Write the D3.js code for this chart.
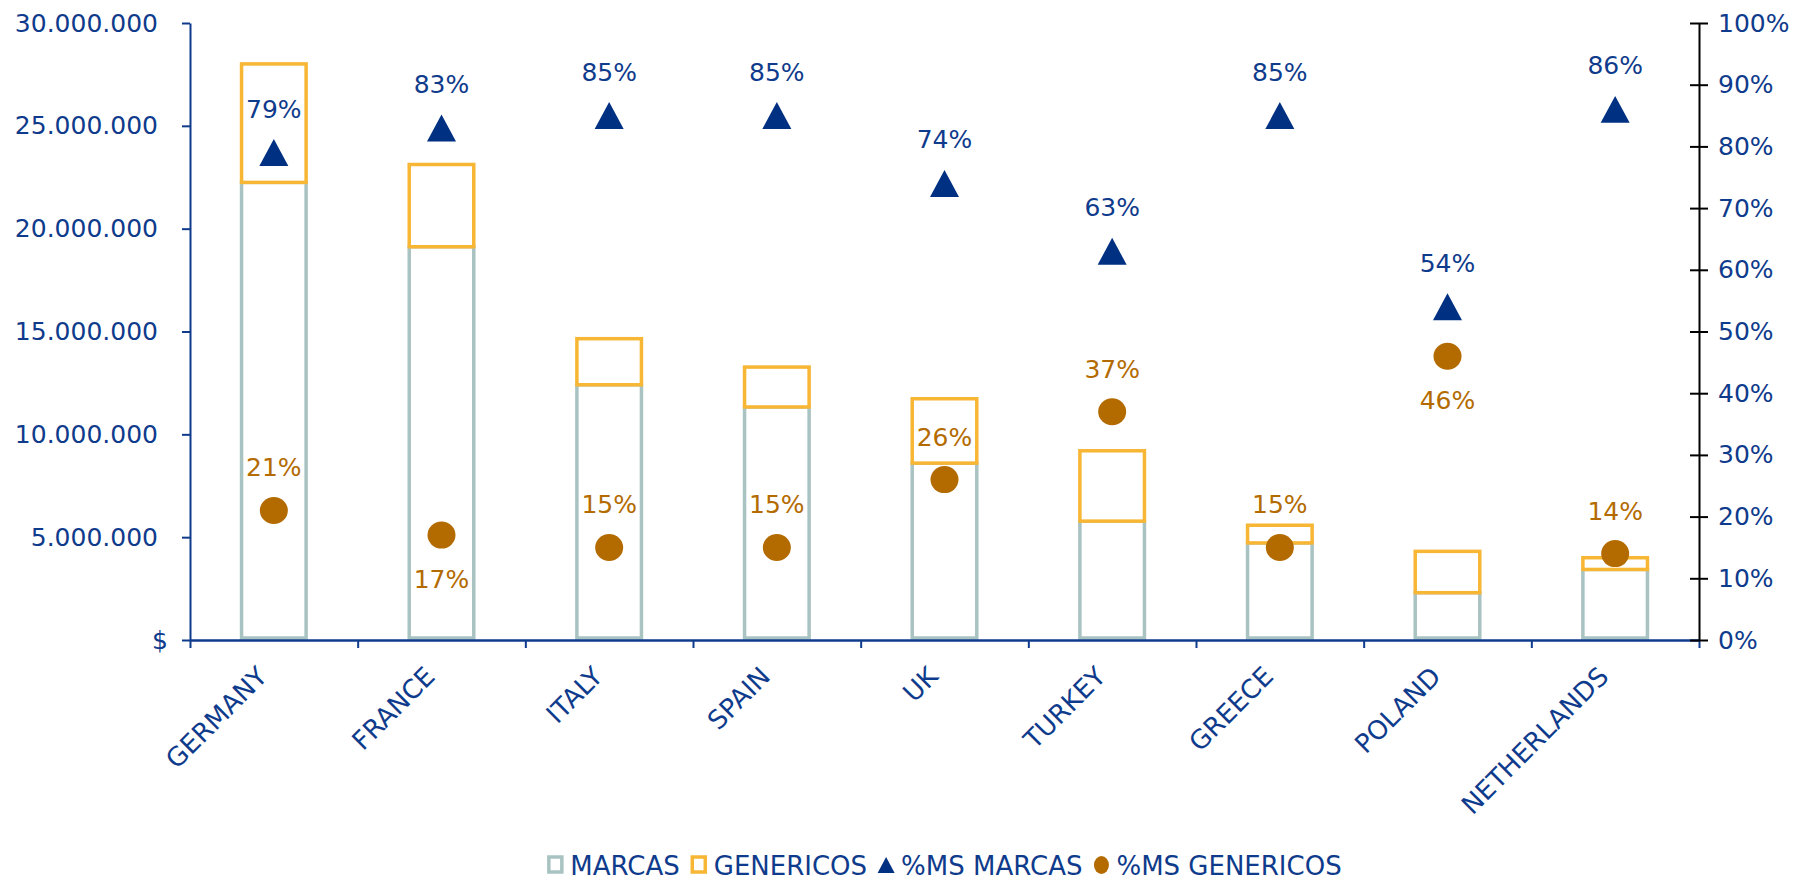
<!DOCTYPE html>
<html lang="es">
<head>
  <meta charset="UTF-8">
  <title>Marcas vs genericos</title>
  <script src="https://cdn.jsdelivr.net/npm/d3@7"></script>
  <style>
    html, body { margin: 0; padding: 0; background: #fff; }
    svg { display: block; font-family: Verdana, "DejaVu Sans", sans-serif; }
  </style>
</head>
<body>
<svg id="chart" width="1797" height="881"></svg>
<script>
  // data
  var countries = ["GERMANY", "FRANCE", "ITALY", "SPAIN", "UK", "TURKEY", "GREECE", "POLAND", "NETHERLANDS"];
  var marcas    = [22250000, 19120000, 12410000, 11330000, 8600000, 5780000, 4720000, 2300000, 3430000];
  var genericos = [ 5760000,  4000000,  2240000,  1940000, 3130000, 3420000,  860000, 2010000,  570000];
  var msMarcas    = [0.79, 0.83, 0.85, 0.85, 0.74, 0.63, 0.85, 0.54, 0.86];
  var msGenericos = [0.21, 0.17, 0.15, 0.15, 0.26, 0.37, 0.15, 0.46, 0.14];
  var valueTicks = [0, 5000000, 10000000, 15000000, 20000000, 25000000, 30000000];
  var pctTicks = [0, 0.1, 0.2, 0.3, 0.4, 0.5, 0.6, 0.7, 0.8, 0.9, 1];
  var legendNames = ["MARCAS", "GENERICOS", "%MS MARCAS", "%MS GENERICOS"];

  var navy = "#0f3b8c";
  var triColor = "#003082";
  var teal = "#a9c3c2";
  var orange = "#f7b634";
  var brown = "#b36b00";
  var fontSize = "25px";

  var svg = d3.select("#chart");
  var margin = { top: 23, right: 98, bottom: 241, left: 190 };
  var width = 1797 - margin.left - margin.right;
  var height = 881 - margin.top - margin.bottom;

  var g = svg.append("g")
    .attr("transform", "translate(" + margin.left + "," + margin.top + ")");

  var x = d3.scaleBand().domain(countries).range([0, width])
    .paddingInner(0.615).paddingOuter(0.3075);
  var y = d3.scaleLinear().domain([0, 30000000]).range([height, 0]);
  var yPct = d3.scaleLinear().domain([0, 1]).range([height, 0]);
  var xb = d3.scaleLinear().domain([0, countries.length]).range([0, width]);

  var locale = d3.formatLocale({ decimal: ",", thousands: ".", grouping: [3], currency: ["$", ""] });
  var fmt = locale.format(",.0f");
  var pct = d3.format(".0%");

  var rows = countries.map(function (c, i) {
    return { c: c, m: marcas[i], gen: genericos[i], pm: msMarcas[i], pg: msGenericos[i] };
  });

  // triangle centred on its box, like the spreadsheet marker
  var triangle = {
    draw: function (ctx, s) {
      var h = s * 0.93;
      ctx.moveTo(0, -h / 2);
      ctx.lineTo(s / 2, h / 2);
      ctx.lineTo(-s / 2, h / 2);
      ctx.closePath();
    }
  };

  // bars (outlined)
  g.selectAll(".marcas").data(rows).enter().append("rect")
    .attr("x", function (d) { return x(d.c); })
    .attr("y", function (d) { return y(d.m); })
    .attr("width", x.bandwidth())
    .attr("height", function (d) { return y(0) - y(d.m) - 2; })
    .attr("fill", "#fff").attr("stroke", teal).attr("stroke-width", 3.5);

  g.selectAll(".genericos").data(rows).enter().append("rect")
    .attr("x", function (d) { return x(d.c); })
    .attr("y", function (d) { return y(d.m + d.gen); })
    .attr("width", x.bandwidth())
    .attr("height", function (d) { return y(d.m) - y(d.m + d.gen); })
    .attr("fill", "#fff").attr("stroke", orange).attr("stroke-width", 3.5);

  // left axis
  var gy = g.append("g")
    .call(d3.axisLeft(y).tickValues(valueTicks).tickSize(8).tickSizeOuter(0).tickPadding(24)
      .tickFormat(function (d) { return d === 0 ? "$" : fmt(d); }))
    .attr("font-size", null).attr("font-family", null);
  gy.select(".domain").attr("stroke", navy).attr("stroke-width", 2);
  gy.selectAll(".tick line").attr("stroke", navy).attr("stroke-width", 2);
  gy.selectAll(".tick text").attr("fill", navy).style("font-size", fontSize);
  gy.selectAll(".tick").filter(function (d) { return d === 0; }).select("text").attr("x", -22);

  // bottom axis: ticks between categories
  var gx = g.append("g")
    .attr("transform", "translate(0," + height + ")")
    .call(d3.axisBottom(xb).tickValues(d3.range(countries.length + 1)).tickSize(8).tickSizeOuter(0)
      .tickFormat(""));
  gx.select(".domain").attr("stroke", navy).attr("stroke-width", 2.5);
  gx.selectAll(".tick line").attr("stroke", navy).attr("stroke-width", 2);

  g.selectAll(".cat").data(countries).enter().append("text")
    .attr("transform", function (d) {
      return "translate(" + (x(d) + x.bandwidth() / 2 - 5) + "," + (height + 38) + ") rotate(-45)";
    })
    .attr("text-anchor", "end")
    .attr("fill", navy).style("font-size", "26px")
    .text(function (d) { return d; });

  // right axis
  var gr = g.append("g")
    .attr("transform", "translate(" + width + ",0)")
    .call(d3.axisRight(yPct).tickValues(pctTicks).tickSizeInner(9).tickSizeOuter(0).tickPadding(10)
      .tickFormat(pct))
    .attr("font-size", null).attr("font-family", null);
  gr.select(".domain").attr("stroke", "#000").attr("stroke-width", 2);
  gr.selectAll(".tick line").attr("x1", -9).attr("stroke", "#000").attr("stroke-width", 2);
  gr.selectAll(".tick text").attr("fill", navy).style("font-size", fontSize);

  // %MS markers
  var cx = function (d) { return x(d.c) + x.bandwidth() / 2; };

  g.selectAll(".tri").data(rows).enter().append("path")
    .attr("transform", function (d) { return "translate(" + cx(d) + "," + yPct(d.pm) + ")"; })
    .attr("d", d3.symbol().type(triangle).size(29))
    .attr("fill", triColor);

  g.selectAll(".tri-label").data(rows).enter().append("text")
    .attr("x", cx).attr("y", function (d) { return yPct(d.pm) - 35; })
    .attr("text-anchor", "middle").attr("fill", navy).style("font-size", fontSize)
    .text(function (d) { return pct(d.pm); });

  g.selectAll(".dot").data(rows).enter().append("ellipse")
    .attr("cx", cx).attr("cy", function (d) { return yPct(d.pg); })
    .attr("rx", 14).attr("ry", 13.5)
    .attr("fill", brown);

  g.selectAll(".dot-label").data(rows).enter().append("text")
    .attr("x", cx)
    .attr("y", function (d) {
      var below = d.c === "FRANCE" || d.c === "POLAND";
      return below ? yPct(d.pg) + 53 : yPct(d.pg) - 34;
    })
    .attr("text-anchor", "middle").attr("fill", brown).style("font-size", fontSize)
    .text(function (d) { return pct(d.pg); });

  // legend
  var legend = svg.append("g").attr("transform", "translate(0,865)");
  var lx = 0;
  legendNames.forEach(function (name, i) {
    var item = legend.append("g").attr("transform", "translate(" + lx + ",0)");
    if (i === 0 || i === 1) {
      item.append("rect").attr("x", 1.5).attr("y", -8).attr("width", 13).attr("height", 15)
        .attr("fill", "#fff").attr("stroke", i === 0 ? teal : orange).attr("stroke-width", 3.5);
    } else if (i === 2) {
      item.append("path").attr("transform", "translate(8,0)")
        .attr("d", d3.symbol().type(triangle).size(17)).attr("fill", triColor);
    } else {
      item.append("ellipse").attr("cx", 8).attr("cy", 0).attr("rx", 7.5).attr("ry", 9).attr("fill", brown);
    }
    var t = item.append("text").attr("x", 23).attr("y", 9.5)
      .attr("fill", navy).style("font-size", "26px").text(name);
    lx += 23 + t.node().getComputedTextLength() + 11;
  });
  lx -= 11;
  legend.attr("transform", "translate(" + (margin.left + width / 2 - lx / 2) + ",865)");
</script>
</body>
</html>
